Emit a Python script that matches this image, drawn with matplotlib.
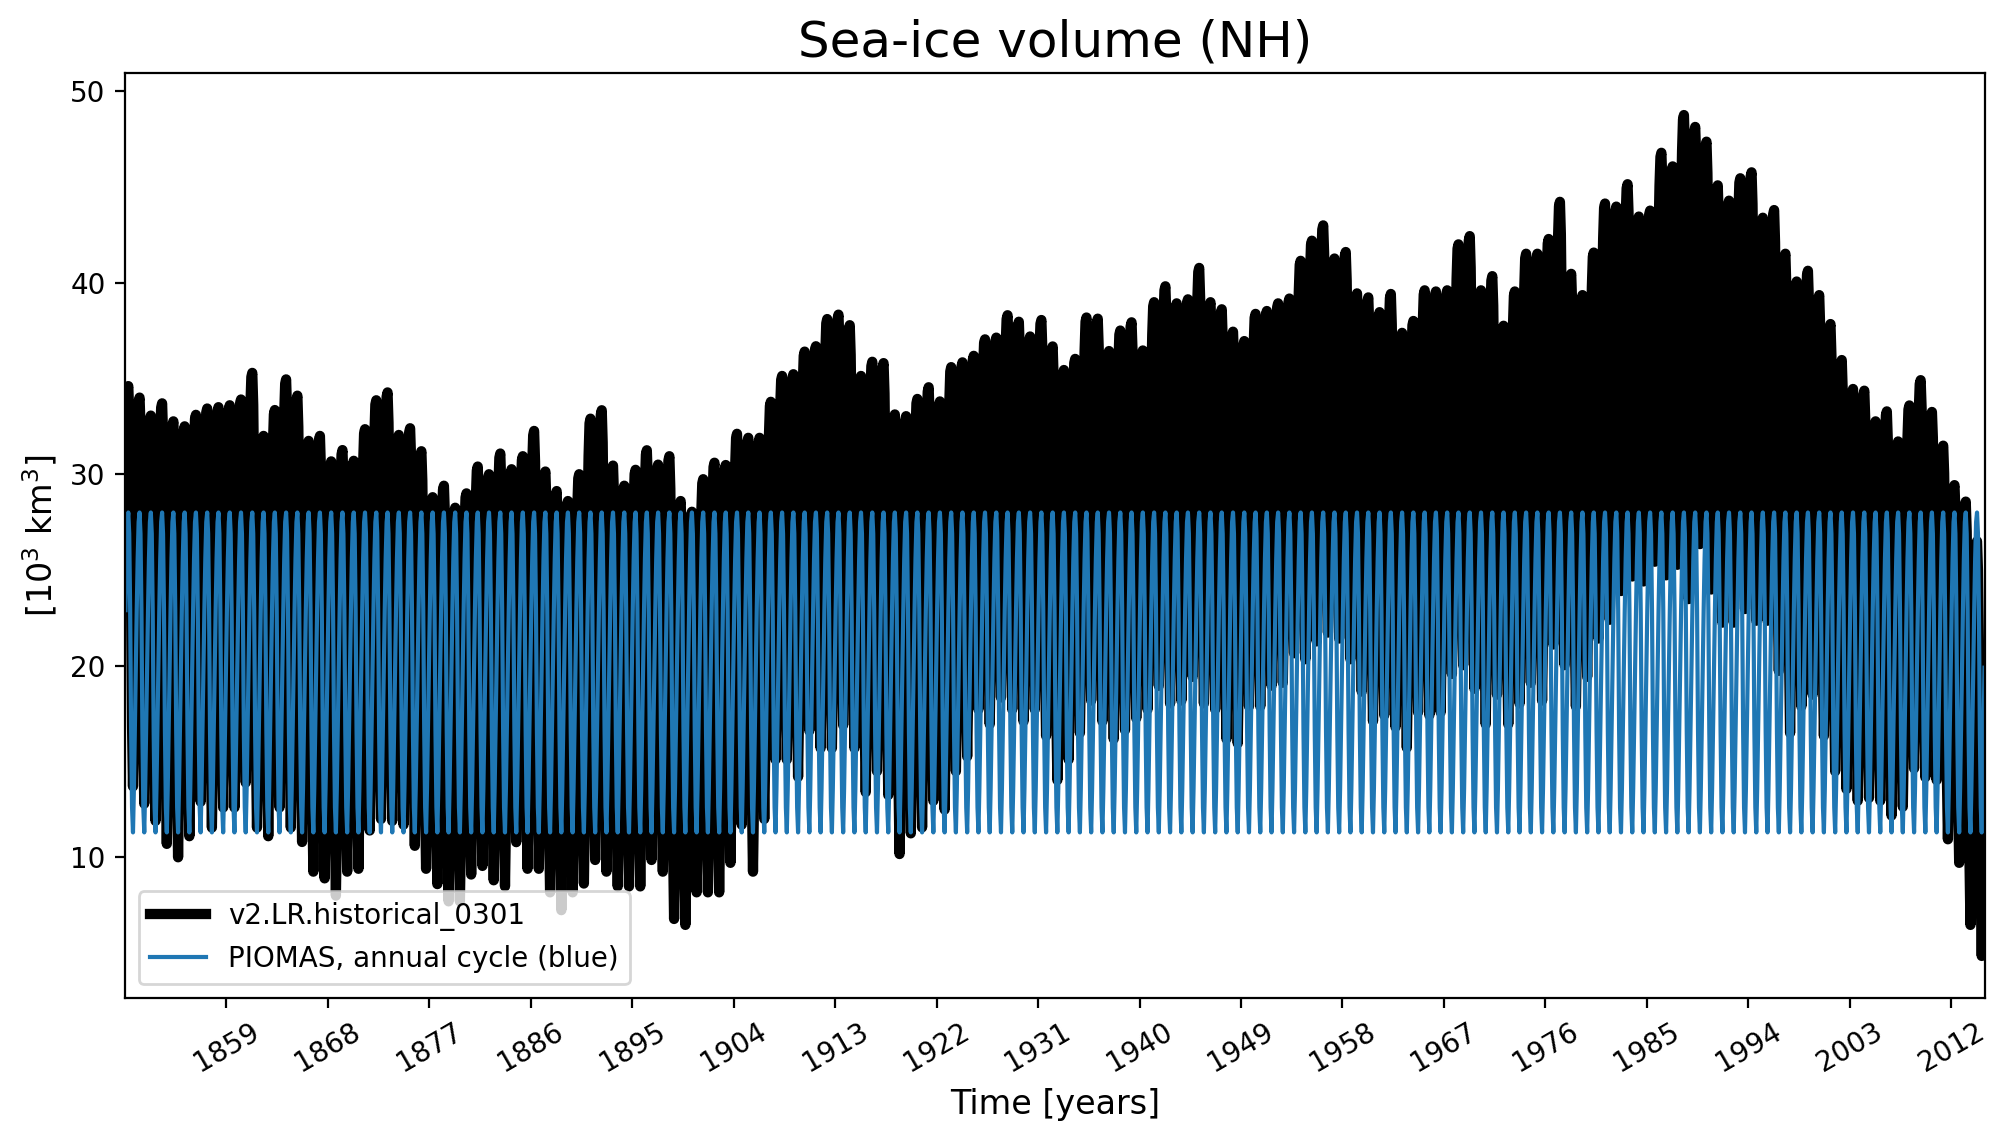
import numpy as np
import matplotlib
matplotlib.use("Agg")
import matplotlib.pyplot as plt

# years of the simulation
years = np.arange(1850, 2015)

# yearly maximum (April) of the model sea-ice volume [10^3 km^3]
vol_max = [
    34.6, 34.0, 33.06, 33.7, 32.76, 32.5, 33.1, 33.43, 33.5, 33.6,
    33.9, 35.29, 32.0, 33.35, 34.95, 34.1, 31.74, 32.0, 30.67, 31.26,
    30.7, 32.35, 33.86, 34.27, 32.05, 32.4, 31.2, 28.8, 29.4, 28.25,
    29.0, 30.4, 30.0, 31.08, 30.26, 30.94, 32.26, 30.14, 29.12, 28.6,
    30.0, 32.9, 33.34, 30.45, 29.4, 30.23, 31.25, 30.5, 30.94, 28.6,
    28.04, 29.74, 30.6, 30.48, 32.11, 31.9, 31.9, 33.78, 35.13, 35.22,
    36.4, 36.68, 38.1, 38.33, 37.78, 35.13, 35.87, 35.8, 33.12, 33.03,
    33.93, 34.54, 33.8, 35.59, 35.84, 36.18, 37.04, 37.13, 38.3, 37.96,
    37.19, 38.05, 36.67, 35.44, 36.02, 38.18, 38.12, 36.43, 37.5, 37.93,
    36.46, 38.98, 39.81, 38.92, 39.13, 40.77, 38.98, 38.61, 37.44, 36.95,
    38.37, 38.52, 38.92, 39.17, 41.14, 42.19, 42.99, 41.26, 41.6, 39.44,
    39.23, 38.46, 39.41, 37.38, 38.0, 39.6, 39.54, 39.6, 42.0, 42.43,
    39.6, 40.34, 37.75, 39.54, 41.51, 41.51, 42.28, 44.22, 40.46, 39.35,
    41.57, 44.13, 43.97, 45.14, 43.45, 43.76, 46.78, 46.07, 48.75, 48.13,
    47.36, 45.08, 44.28, 45.45, 45.76, 43.39, 43.79, 41.51, 40.06, 40.62,
    39.35, 37.84, 35.96, 34.45, 34.36, 32.76, 33.28, 31.71, 33.59, 34.91,
    33.25, 31.49, 29.43, 28.57, 26.5,
]

# yearly minimum (September) of the model sea-ice volume
vol_min = [
    13.7, 12.8, 11.9, 10.7, 10.0, 11.1, 12.9, 11.55, 12.6, 12.6,
    13.9, 11.55, 11.1, 12.6, 11.55, 10.8, 9.25, 8.9, 8.0, 9.25,
    9.4, 11.4, 12.0, 11.9, 11.7, 10.6, 9.4, 8.6, 7.7, 7.7,
    9.1, 9.55, 8.8, 8.48, 10.79, 9.4, 9.4, 8.17, 7.24, 8.17,
    8.63, 9.86, 9.25, 8.48, 8.48, 8.48, 9.86, 9.25, 6.78, 6.47,
    8.17, 8.17, 8.17, 9.71, 11.7, 9.25, 12.0, 15.1, 15.1, 14.2,
    16.6, 15.7, 15.7, 16.9, 15.7, 13.4, 14.49, 13.25, 10.17, 11.25,
    11.56, 12.95, 12.49, 14.49, 15.26, 17.72, 16.95, 18.34, 17.72, 17.1,
    17.72, 16.34, 14.03, 15.1, 16.49, 18.18, 17.1, 16.18, 16.64, 17.26,
    17.72, 18.95, 18.03, 18.18, 19.42, 18.03, 17.72, 16.18, 15.95, 17.88,
    17.88, 18.96, 19.11, 20.65, 20.34, 21.27, 21.73, 21.42, 20.34, 18.65,
    17.11, 17.42, 16.8, 15.72, 17.57, 17.42, 17.57, 19.57, 20.03, 18.8,
    16.95, 18.49, 16.95, 18.03, 19.11, 18.18, 21.11, 20.03, 17.88, 19.42,
    21.42, 22.4, 23.9, 24.66, 24.4, 25.43, 24.72, 25.27, 23.48, 26.35,
    23.98, 22.25, 22.25, 22.96, 22.35, 22.35, 19.73, 16.49, 17.88, 18.49,
    16.34, 14.49, 13.56, 12.95, 13.1, 12.95, 12.18, 12.64, 14.64, 14.18,
    14.03, 10.94, 9.71, 6.47, 4.85,
]

# shape of the model annual cycle, 1 = April max, 0 = September min
cycle_frac = [0.80, 0.92, 0.99, 1.0, 0.93, 0.75, 0.45, 0.15, 0.0, 0.15, 0.40, 0.62]

# PIOMAS monthly climatology (Jan..Dec)
piomas_clim = [22.9, 25.6, 27.5, 28.0, 26.9, 22.9, 16.6, 12.6, 11.3, 13.6, 16.8, 19.9]


def build_monthly(vmax, vmin, frac):
    vmax = np.asarray(vmax)
    vmin = np.asarray(vmin)
    frac = np.asarray(frac)
    n = len(vmax)
    out = np.zeros((n, 12))
    for i in range(n):
        for m in range(12):
            if m < 3:      # rising limb from last September
                lo, hi = vmin[max(i - 1, 0)], vmax[i]
            elif m <= 8:   # melt season
                lo, hi = vmin[i], vmax[i]
            else:          # refreeze towards next April
                lo, hi = vmin[i], vmax[min(i + 1, n - 1)]
            out[i, m] = lo + (hi - lo) * frac[m]
    return out.ravel()


t = (years[:, None] + (np.arange(12)[None, :] + 0.5) / 12.0).ravel()
model = build_monthly(vol_max, vol_min, cycle_frac)
piomas = np.tile(piomas_clim, len(years))

fig = plt.figure(figsize=(10.04, 5.705), dpi=200)
ax = fig.add_axes([0.06225, 0.12533, 0.9263, 0.8107])

ax.plot(t, model, color='black', lw=3.7, label='v2.LR.historical_0301')
ax.plot(t, piomas, color='tab:blue', lw=1.5, label='PIOMAS, annual cycle (blue)')

ax.set_xlim(1850, 2015)
ax.set_xticks(np.arange(1859, 2013, 9))
plt.xticks(rotation=30)
ax.set_title('Sea-ice volume (NH)', fontsize=18)
ax.set_xlabel('Time [years]', fontsize=12)
ax.set_ylabel('[10$^3$ km$^3$]', fontsize=12)
ax.legend(loc='lower left')

fig.savefig('out.png', dpi=200)
